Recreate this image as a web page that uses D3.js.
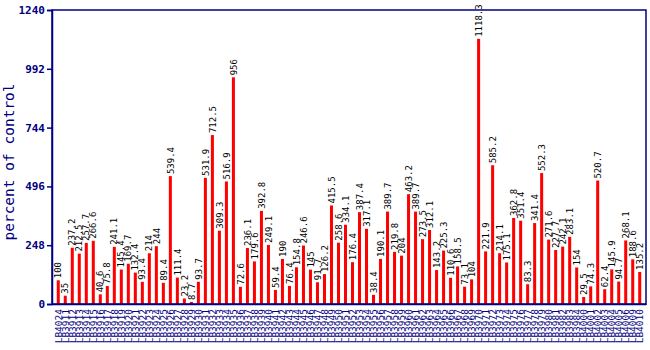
<!DOCTYPE html>
<html>
<head>
<meta charset="utf-8">
<script src="https://cdn.jsdelivr.net/npm/d3@7"></script>
<style>
  html, body { margin: 0; padding: 0; background: #ffffff; }
  svg { display: block; }
</style>
</head>
<body>
<svg id="chart" width="650" height="350"></svg>
<script>
// Strain identifiers along the x axis
const categories = [
  "LB4024","LB3911","LB3912","LB3913","LB3914","LB3915","LB3916","LB3917","LB3918","LB3919",
  "LB3920","LB3921","LB3922","LB3923","LB3924","LB3925","LB3926","LB3927","LB3928","LB3929",
  "LB3930","LB3931","LB3932","LB3933","LB3934","LB3935","LB3936","LB3937","LB3938","LB3939",
  "LB3940","LB3941","LB3942","LB3943","LB3944","LB3945","LB3946","LB3947","LB3948","LB3949",
  "LB3950","LB3951","LB3952","LB3953","LB3954","LB3955","LB3956","LB3957","LB3958","LB3959",
  "LB3960","LB3961","LB3962","LB3963","LB3964","LB3965","LB3966","LB3967","LB3968","LB3969",
  "LB3970","LB3971","LB3972","LB3973","LB3974","LB3975","LB3976","LB3977","LB3978","LB3979",
  "LB3980","LB3981","LB3982","LB3983","LB3984","LB4000","LB4001","LB4002","LB4003","LB4004",
  "LB4005","LB4006","LB4009","LB4010"
];

// Percent of control for each strain
const values = [
  100, 35, 237.2, 212.5, 257.7, 266.6, 40.6, 75.8, 241.1, 145.4,
  169.7, 132.4, 93.4, 214, 244, 89.4, 539.4, 111.4, 23.2, 8.7,
  93.7, 531.9, 712.5, 309.3, 516.9, 956, 72.6, 236.1, 179.6, 392.8,
  249.1, 59.4, 190, 76.4, 154.8, 246.6, 145, 91.7, 126.2, 415.5,
  258.6, 334.1, 176.4, 387.4, 317.1, 38.4, 190.1, 389.7, 219.8, 204,
  463.2, 389.7, 273.5, 312.1, 143.2, 225.3, 110.6, 158.5, 73.1, 104,
  1118.3, 221.9, 585.2, 214.1, 175.1, 362.8, 351.4, 83.3, 341.4, 552.3,
  271.6, 227.7, 242.1, 283.1, 154, 29.5, 74.3, 520.7, 62.4, 145.9,
  94.7, 268.1, 188.6, 135.2
];

// Y axis tick values
const yTicks = [0, 248, 496, 744, 992, 1240];

const navy = "#000080";
const mono = "'DejaVu Sans Mono', 'Liberation Mono', monospace";

const svg = d3.select("#chart");
const plot = { left: 52, right: 646, top: 10, bottom: 304 };

const x = d3.scaleBand()
  .domain(categories)
  .range([plot.left, plot.right])
  .paddingInner(0.57)
  .paddingOuter(0.68);

const y = d3.scaleLinear()
  .domain([0, 1240])
  .range([plot.bottom, plot.top]);

// Bars
svg.append("g")
  .selectAll("rect")
  .data(values)
  .join("rect")
  .attr("x", (d, i) => x(categories[i]))
  .attr("width", x.bandwidth())
  .attr("y", d => y(d))
  .attr("height", d => y(0) - y(d))
  .attr("fill", "#ff0000");

// Value labels above each bar
svg.append("g")
  .selectAll("text")
  .data(values)
  .join("text")
  .attr("transform", (d, i) =>
    `translate(${x(categories[i]) + x.bandwidth() / 2},${y(d) - 2}) rotate(-90)`)
  .attr("dy", "0.35em")
  .attr("text-anchor", "start")
  .attr("font-family", mono)
  .attr("font-size", 9)
  .attr("fill", "#000000")
  .text(d => String(d));

// Frame around the plot area
svg.append("rect")
  .attr("x", plot.left)
  .attr("y", plot.top)
  .attr("width", plot.right - plot.left)
  .attr("height", plot.bottom - plot.top)
  .attr("fill", "none")
  .attr("stroke", navy)
  .attr("stroke-width", 1.5);

// Y axis
const yAxis = d3.axisLeft(y)
  .tickValues(yTicks)
  .tickSize(5)
  .tickPadding(2)
  .tickFormat(d3.format("d"));

const yg = svg.append("g")
  .attr("transform", `translate(${plot.left},0)`)
  .call(yAxis);
yg.select(".domain").attr("stroke", navy).attr("stroke-width", 1.5);
yg.selectAll(".tick line").attr("stroke", navy).attr("stroke-width", 1.5);
yg.selectAll(".tick text")
  .attr("fill", navy)
  .attr("font-family", mono)
  .attr("font-weight", "bold")
  .attr("font-size", 11);

// X axis with vertical category labels
const xAxis = d3.axisBottom(x).tickSize(0).tickPadding(0);
const xg = svg.append("g")
  .attr("transform", `translate(0,${plot.bottom})`)
  .call(xAxis);
xg.select(".domain").attr("stroke", navy).attr("stroke-width", 1.5);
xg.selectAll(".tick text")
  .attr("fill", navy)
  .attr("font-family", mono)
  .attr("font-size", 9.5)
  .attr("text-anchor", "end")
  .attr("transform", "rotate(-90)")
  .attr("x", -5)
  .attr("y", 0)
  .attr("dy", "0.35em");

// Y axis title
svg.append("text")
  .attr("transform", `translate(14,${(plot.top + plot.bottom) / 2 + 5}) rotate(-90)`)
  .attr("text-anchor", "middle")
  .attr("font-family", mono)
  .attr("font-size", 14.5)
  .attr("fill", navy)
  .text("percent of control");
</script>
</body>
</html>
